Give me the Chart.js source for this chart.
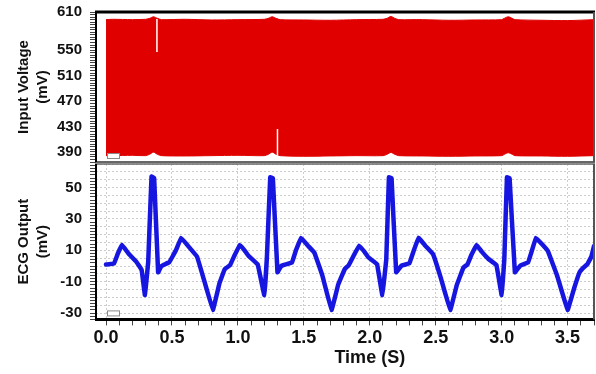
<!DOCTYPE html>
<html>
<head>
<meta charset="utf-8">
<script src="https://cdn.jsdelivr.net/npm/chart.js@4.4.1/dist/chart.umd.min.js"></script>
<style>
  html, body { margin: 0; padding: 0; background: #fff; }
  #wrap { position: relative; width: 596px; height: 374px; overflow: hidden; }
  canvas { position: absolute; left: 0; }
  #vin { top: 0; }
  #ecg { top: 162px; }
</style>
</head>
<body>
<div id="wrap">
  <canvas id="vin" width="596" height="164"></canvas>
  <canvas id="ecg" width="596" height="212"></canvas>
</div>
<script>
// ---- Input voltage: envelope of the modulated carrier (mV) ----
const envTime  = [0, 0.05, 0.2, 0.3, 0.33, 0.36, 0.39, 0.42, 0.6, 0.8, 1.0, 1.2, 1.23, 1.26, 1.29, 1.32, 1.5, 1.7, 1.9, 2.1, 2.13, 2.16, 2.19, 2.22, 2.4, 2.6, 2.8, 3.0, 3.02, 3.05, 3.08, 3.1, 3.3, 3.5, 3.7];
const envUpper = [598, 598.5, 598, 598.5, 600, 602.5, 600, 598, 598.5, 597.5, 598, 598.5, 600, 602.5, 600, 598, 597.5, 597, 598, 598.5, 600, 603, 600, 598, 598, 597, 597.5, 598, 600, 602.5, 600, 598, 597, 596.5, 598];
const envLower = [384, 384, 384.5, 384, 386, 389.5, 386, 384, 383.5, 384, 384.5, 384, 386, 389.5, 386, 384, 383, 383.5, 384, 384, 386, 389, 386, 384, 383.5, 383, 383.5, 384, 386, 388.5, 386, 384, 383.5, 383, 384];
// short signal dropouts
const dropTime   = [0.386, 1.30];
const dropTop    = [599, 426];
const dropBottom = [547, 384];
const vinTickLabels = [390, 430, 470, 510, 550, 610];

// ---- ECG output (mV) ----
const ecgTime = [0.00, 0.06, 0.09, 0.12, 0.17, 0.23, 0.27, 0.295, 0.32, 0.345, 0.365, 0.395, 0.42, 0.48, 0.53, 0.57, 0.62, 0.69, 0.74, 0.81,
                 0.86, 0.90, 0.94, 0.97, 1.015, 1.05, 1.08, 1.15, 1.20, 1.22, 1.245, 1.265, 1.30, 1.33, 1.41, 1.44, 1.48, 1.53, 1.58, 1.64, 1.71,
                 1.76, 1.81, 1.84, 1.88, 1.92, 1.96, 1.99, 2.055, 2.095, 2.125, 2.145, 2.165, 2.20, 2.24, 2.30, 2.33, 2.37, 2.42, 2.48, 2.54, 2.61,
                 2.66, 2.71, 2.74, 2.77, 2.81, 2.85, 2.90, 2.96, 3.00, 3.02, 3.04, 3.06, 3.10, 3.14, 3.20, 3.23, 3.26, 3.31, 3.35, 3.42, 3.50,
                 3.55, 3.59, 3.62, 3.65, 3.68, 3.70];
const ecgMv   = [1, 1.5, 8, 13.5, 8, 2.7, -2.5, -18.5, 3, 57, 56, -4, 0, 2.5, 10, 18, 13, 6, -8, -28,
                 -11, -2, 0.5, 6, 13.5, 10, 6.5, 1, -18.5, 6, 56.5, 56, -4, 0.2, 2.3, 10, 18, 13, 8.5, -6, -28,
                 -12, -2, 0.5, 7, 13, 9, 5.5, 1.2, -18.5, 4.4, 56.5, 56, -4, 0.2, 1.7, 9, 18, 13, 7.5, -8, -28,
                 -12, -1, 1, 7, 13.5, 9, 4.5, 0.6, -18.5, 4.4, 56.5, 56, -4, 0.2, 2.3, 10, 18, 13.5, 9.6, -6, -28,
                 -14, -4, -1, 1.2, 6, 12.7];
const ecgTickLabels = [50, 30, 10, -10, -30];
const timeTickLabels = [0, 0.5, 1.0, 1.5, 2.0, 2.5, 3.0, 3.5];
const timeTitle = 'Time (S)';

const FONT = '"Liberation Sans", Arial, sans-serif';
const INK = '#111';
const T_MIN = -0.076, T_MAX = 3.70;

const pts = (xs, ys) => xs.map((x, i) => ({ x, y: ys[i] }));
const range = (a, b, step) => { const out = []; for (let v = a; v <= b + 1e-9; v += step) out.push(Math.round(v * 1000) / 1000); return out; };

// panel frame plus the small marker box in the lower-left corner
const framePlugin = {
  id: 'frame',
  afterDraw(chart, args, o) {
    const { left, right, top, bottom } = chart.chartArea;
    const ctx = chart.ctx;
    ctx.save();
    const side = (x1, y1, x2, y2, s) => {
      ctx.beginPath(); ctx.strokeStyle = s[0]; ctx.lineWidth = s[1];
      ctx.moveTo(x1, y1); ctx.lineTo(x2, y2); ctx.stroke();
    };
    side(left - 1, top, right + 1, top, o.top);
    side(left - 1, bottom, right + 1, bottom, o.bottom);
    side(left, top, left, bottom, o.left);
    side(right, top, right, bottom, o.right);
    ctx.fillStyle = '#fff';
    ctx.fillRect(left + 11.5, bottom - 8.5, 12, 5);
    ctx.strokeStyle = '#8a8a8a'; ctx.lineWidth = 1;
    ctx.strokeRect(left + 11.5, bottom - 8.5, 12, 5);
    ctx.restore();
  }
};

// x-axis title, centred under the 2.0 s tick
const timeTitlePlugin = {
  id: 'timeTitle',
  afterDraw(chart) {
    const x = chart.scales.x;
    const ctx = chart.ctx;
    ctx.save();
    ctx.font = 'bold 18px ' + FONT;
    ctx.fillStyle = INK; ctx.textAlign = 'center'; ctx.textBaseline = 'middle';
    ctx.fillText(timeTitle, x.getPixelForValue(2.0), x.bottom + 7);
    ctx.restore();
  }
};

function yAxis(min, max, step, labels, title, gridFn, tickColorFn) {
  return {
    type: 'linear', min, max,
    afterBuildTicks: s => { s.ticks = range(min, max, step).map(v => ({ value: v })); },
    afterFit: s => { s.width = 96; s.paddingTop = 0; s.paddingBottom = 0; },
    ticks: {
      autoSkip: false, padding: 8, color: INK,
      font: { family: FONT, size: 15, weight: 'bold' },
      callback: v => labels.includes(v) ? String(v) : ''
    },
    grid: { display: true, drawOnChartArea: !!gridFn, tickLength: 6, lineWidth: 1,
            color: gridFn || 'rgba(0,0,0,0)', tickColor: tickColorFn || '#444' },
    border: { display: false, dash: [2, 2] },
    title: { display: true, text: title, color: INK, align: 'center',
             font: { family: FONT, size: 15, weight: 'bold', lineHeight: 1.3 },
             padding: { top: 14, bottom: 0 } }
  };
}

const common = {
  responsive: false, animation: false, devicePixelRatio: 1,
  plugins: { legend: { display: false }, tooltip: { enabled: false } },
  elements: { point: { radius: 0 } }
};

// ---- top panel ----
const RED = '#e00000';
new Chart(document.getElementById('vin'), {
  type: 'line',
  data: {
    datasets: [
      { data: pts(envTime, envLower), borderColor: RED, borderWidth: 1, fill: false, tension: 0.3, order: 2 },
      { data: pts(envTime, envUpper), borderColor: RED, borderWidth: 1, backgroundColor: RED, fill: '-1', tension: 0.3, order: 2 },
      ...dropTime.map((t, i) => ({
        data: [{ x: t, y: dropTop[i] }, { x: t, y: dropBottom[i] }],
        borderColor: '#fff', borderWidth: 1.5, fill: false, order: 0
      }))
    ]
  },
  options: {
    ...common,
    layout: { padding: { top: 12, right: 2, bottom: 2, left: 0 } },
    scales: {
      x: { type: 'linear', min: T_MIN, max: T_MAX, display: false },
      y: yAxis(374, 610, 4, vinTickLabels, ['Input Voltage', '(mV)'])
    },
    plugins: { ...common.plugins,
      frame: { top: ['#000', 3], left: ['#000', 2], bottom: ['#333', 1.5], right: ['#555', 2] } }
  },
  plugins: [framePlugin]
});

// ---- bottom panel ----
const ecgGrid = c => (c.tick && Math.round(c.tick.value) % 5 === 0) ? '#cdcdcd' : 'rgba(0,0,0,0)';
const ecgTickColor = c => (c.tick && Math.round(c.tick.value) % 2 === 0) ? '#444' : 'rgba(0,0,0,0)';
new Chart(document.getElementById('ecg'), {
  type: 'line',
  data: {
    datasets: [{
      data: pts(ecgTime, ecgMv), borderColor: '#1616e0', borderWidth: 4.5, fill: false,
      tension: 0.05, borderJoinStyle: 'round', borderCapStyle: 'round'
    }]
  },
  options: {
    ...common,
    layout: { padding: { top: 2, right: 2, bottom: 23, left: 0 } },
    scales: {
      x: {
        type: 'linear', min: T_MIN, max: T_MAX,
        afterBuildTicks: s => { s.ticks = range(0, 3.7, 0.1).map(v => ({ value: v })); },
        afterFit: s => { s.paddingLeft = 0; s.paddingRight = 0; },
        ticks: {
          autoSkip: false, maxRotation: 0, padding: 2, color: INK,
          font: { family: FONT, size: 18, weight: 'bold' },
          callback: v => timeTickLabels.some(t => Math.abs(t - v) < 1e-6) ? v.toFixed(1) : ''
        },
        grid: {
          tickLength: 6, lineWidth: 1, tickColor: '#444',
          color: c => (c.tick && Math.round(c.tick.value * 10) % 5 === 0) ? '#cdcdcd' : 'rgba(0,0,0,0)'
        },
        border: { display: false, dash: [2, 2] }
      },
      y: yAxis(-34, 65, 1, ecgTickLabels, ['ECG Output', '(mV)'], ecgGrid, ecgTickColor)
    },
    plugins: { ...common.plugins,
      frame: { top: ['#666', 1.5], left: ['#000', 2], bottom: ['#000', 3], right: ['#555', 2] } }
  },
  plugins: [framePlugin, timeTitlePlugin]
});
</script>
</body>
</html>
